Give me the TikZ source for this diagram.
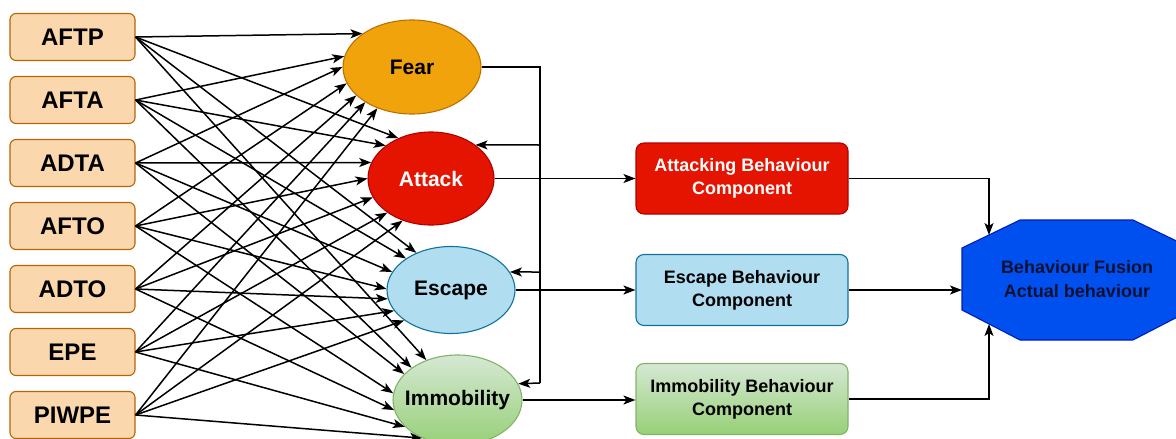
\documentclass[tikz,border=0pt]{standalone}
\usepackage{fontspec}
\setmainfont{Liberation Sans}
\usetikzlibrary{shapes.geometric,arrows.meta,calc}
\definecolor{infill}{HTML}{FAD7AC}
\definecolor{inbd}{HTML}{B46504}
\definecolor{fearc}{HTML}{F0A30A}
\definecolor{feard}{HTML}{BD7000}
\definecolor{attc}{HTML}{E51400}
\definecolor{attd}{HTML}{B20000}
\definecolor{escc}{HTML}{B1DDF0}
\definecolor{escd}{HTML}{10739E}
\definecolor{immt}{HTML}{D5E8D4}
\definecolor{immb}{HTML}{97D077}
\definecolor{immd}{HTML}{82B366}
\definecolor{fusc}{HTML}{0050EF}
\definecolor{fusd}{HTML}{001DBC}
\definecolor{fust}{HTML}{101030}
\begin{document}
\begin{tikzpicture}[x=1pt,y=-1pt,
  inbox/.style={draw=inbd, fill=infill, rounded corners=6pt, minimum width=125pt, minimum height=47pt, line width=1.1pt, font=\fontsize{24}{28}\selectfont\bfseries, inner sep=0pt},
  emo/.style={ellipse, line width=1.1pt, inner sep=0pt, font=\fontsize{21}{25}\selectfont\bfseries},
  comp/.style={rounded corners=8pt, minimum width=212pt, minimum height=71pt, line width=1.1pt, align=center, font=\fontsize{18}{23}\selectfont\bfseries, inner sep=0pt},
  arr/.style={-{Stealth[length=12pt,width=9pt,inset=3pt]}, line width=1.5pt},
  ln/.style={line width=1.5pt}]

\useasboundingbox (0,0) rectangle (1176,439);

% inputs
\node[inbox] (aftp)  at (72.5,37)  {AFTP};
\node[inbox] (afta)  at (72.5,100) {AFTA};
\node[inbox] (adta)  at (72.5,163) {ADTA};
\node[inbox] (afto)  at (72.5,226) {AFTO};
\node[inbox] (adto)  at (72.5,289) {ADTO};
\node[inbox] (epe)   at (72.5,352) {EPE};
\node[inbox] (piwpe) at (72.5,415) {PIWPE};

% emotions
\node[emo, fill=fearc, draw=feard, minimum width=138pt, minimum height=94pt] (fear) at (412,67) {\makebox[0pt]{Fear}};
\node[emo, fill=attc, draw=attd, text=white, minimum width=126pt, minimum height=93pt] (attack) at (431,178.5) {\makebox[0pt]{Attack}};
\node[emo, fill=escc, draw=escd, minimum width=128pt, minimum height=87pt] (escape) at (451,290) {\makebox[0pt]{Escape}};
\node[emo, top color=immt, bottom color=immb, draw=immd, minimum width=129pt, minimum height=90pt] (immob) at (457.5,400) {\makebox[0pt]{Immobility}};

% components
\node[comp, fill=attc, draw=attd, text=white] (attbox) at (742,178.5) {Attacking Behaviour\\Component};
\node[comp, fill=escc, draw=escd] (escbox) at (742,290) {Escape Behaviour\\Component};
\node[comp, top color=immt, bottom color=immb, draw=immd] (immbox) at (742,399) {Immobility Behaviour\\Component};

% fusion octagon
\draw[fill=fusc, draw=fusd, line width=1.1pt] (962,248) -- (1020,220) -- (1133,220) -- (1191,248) -- (1191,310) -- (1133,340) -- (1020,340) -- (962,310) -- cycle;
\node[align=center, font=\fontsize{18}{24}\selectfont\bfseries, text=fust] (fusion) at (1077,279) {Behaviour Fusion\\Actual behaviour};
\coordinate (fA) at (989,235);
\coordinate (fE) at (962,290);
\coordinate (fI) at (989,324);

% input connections
\foreach \s/\a/\b/\c/\d in {aftp/146.6/129.6/133.3/128.7, afta/171.6/144.3/145.4/145.3, adta/180/165.7/163.5/154.8, afto/194.4/180/179/174.3, adto/207.8/198.6/188/189.7, epe/217/218.2/200.8/207.2, piwpe/230.9/236.6/213.3/227.1}{
  \draw[arr] (\s.east) -- (fear.\a);
  \draw[arr] (\s.east) -- (attack.\b);
  \draw[arr] (\s.east) -- (escape.\c);
  \draw[arr] (\s.east) -- (immob.\d);
}

% feedback from fear
\coordinate (fb0) at (540,67);
\coordinate (fbA) at (540,145);
\coordinate (fbE) at (540,272);
\coordinate (fbI) at (540,383);
\draw[ln] (fear.east) -- (fb0) -- (fbI);
\draw[arr] (fbA) -- (attack.37.5);
\draw[arr] (fbE) -- (escape.17.2);
\draw[arr] (fbI) -- (immob.15.9);

% outputs
\draw[arr] (attack.east) -- (attbox.west);
\draw[arr] (escape.east) -- (escbox.west);
\draw[arr] (immob.east) -- (immob.east -| immbox.west);
\draw[arr] (attbox.east) -| (fA);
\draw[arr] (escbox.east) -- (fE);
\draw[arr] (immbox.east) -| (fI);
\end{tikzpicture}
\end{document}
